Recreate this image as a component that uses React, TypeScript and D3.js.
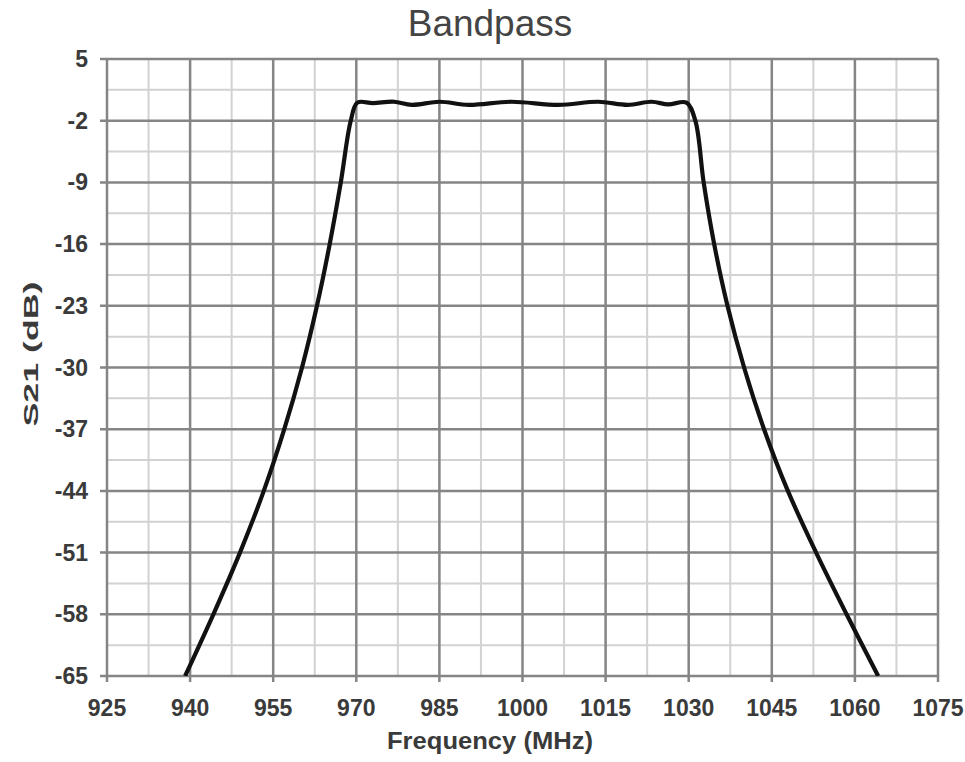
import * as d3 from "d3";
import { useEffect, useRef } from "react";

// frequency (MHz) vs S21 (dB)
const freqs = [
  939.1, 944.2, 949.0, 953.3, 957.0, 960.2, 962.9, 965.2, 967.2, 969.0, 970.2,
  973.0, 976.8, 980.0, 985.0, 990.3, 998.0, 1006.5, 1013.7, 1019.0, 1023.3, 1026.3, 1029.6,
  1031.2, 1032.7, 1034.6, 1037.0, 1040.0, 1043.6, 1047.9, 1053.0, 1058.5, 1064.2,
];
const s21 = [
  -65, -58, -51, -44, -37, -30, -23, -16, -9, -2, 0.05,
  0.0, 0.15, -0.2, 0.15, -0.2, 0.15, -0.2, 0.15, -0.2, 0.15, -0.15, 0.05,
  -2, -9, -16, -23, -30, -37, -44, -51, -58, -65,
];

const xTicks = [925, 940, 955, 970, 985, 1000, 1015, 1030, 1045, 1060, 1075];
const yTicks = [5, -2, -9, -16, -23, -30, -37, -44, -51, -58, -65];

const title = "Bandpass";
const xLabel = "Frequency (MHz)";
const yLabel = "S21 (dB)";

export default function App() {
  const ref = useRef<SVGSVGElement>(null);

  useEffect(() => {
    const svg = d3.select(ref.current);
    svg.selectAll("*").remove();

    const left = 107,
      right = 938,
      top = 59,
      bottom = 676;

    const x = d3.scaleLinear().domain([925, 1075]).range([left, right]);
    const y = d3.scaleLinear().domain([-65, 5]).range([bottom, top]);

    const font = "'Liberation Sans', Arial, sans-serif";

    svg.append("rect").attr("width", 965).attr("height", 762).attr("fill", "#fff");

    // minor grid (halfway between majors)
    const g = svg.append("g");
    for (let i = 0; i < xTicks.length - 1; i++) {
      const v = (xTicks[i] + xTicks[i + 1]) / 2;
      g.append("line")
        .attr("x1", x(v)).attr("x2", x(v))
        .attr("y1", top).attr("y2", bottom)
        .attr("stroke", "#d2d2d2").attr("stroke-width", 2);
    }
    for (let i = 0; i < yTicks.length - 1; i++) {
      const v = (yTicks[i] + yTicks[i + 1]) / 2;
      g.append("line")
        .attr("x1", left).attr("x2", right)
        .attr("y1", y(v)).attr("y2", y(v))
        .attr("stroke", "#d2d2d2").attr("stroke-width", 2);
    }

    // major grid + ticks
    g.selectAll(".vx")
      .data(xTicks)
      .enter()
      .append("line")
      .attr("x1", (d) => x(d)).attr("x2", (d) => x(d))
      .attr("y1", top).attr("y2", bottom + 6)
      .attr("stroke", "#858585").attr("stroke-width", 2.5);
    g.selectAll(".hy")
      .data(yTicks)
      .enter()
      .append("line")
      .attr("x1", left - 7).attr("x2", right)
      .attr("y1", (d) => y(d)).attr("y2", (d) => y(d))
      .attr("stroke", "#858585").attr("stroke-width", 2.5);

    // tick labels
    svg.selectAll(".xl")
      .data(xTicks)
      .enter()
      .append("text")
      .attr("x", (d) => x(d))
      .attr("y", 716)
      .attr("text-anchor", "middle")
      .attr("font-family", font)
      .attr("font-size", 23)
      .attr("font-weight", "bold")
      .attr("fill", "#3a3a3a")
      .text((d) => d);

    svg.selectAll(".yl")
      .data(yTicks)
      .enter()
      .append("text")
      .attr("x", 88)
      .attr("y", (d) => y(d) + 8)
      .attr("text-anchor", "end")
      .attr("font-family", font)
      .attr("font-size", 23)
      .attr("font-weight", "bold")
      .attr("fill", "#3a3a3a")
      .text((d) => d);

    // curve
    svg.append("clipPath").attr("id", "plot")
      .append("rect")
      .attr("x", left).attr("y", top)
      .attr("width", right - left).attr("height", bottom - top);

    const pts = freqs.map((f, i) => [f, s21[i]] as [number, number]);
    const line = d3
      .line<[number, number]>()
      .x((d) => x(d[0]))
      .y((d) => y(d[1]))
      .curve(d3.curveCatmullRom.alpha(0.5));

    svg.append("path")
      .datum(pts)
      .attr("clip-path", "url(#plot)")
      .attr("d", line)
      .attr("fill", "none")
      .attr("stroke", "#111")
      .attr("stroke-width", 4.2)
      .attr("stroke-linejoin", "round");

    // titles
    svg.append("text")
      .attr("x", 490).attr("y", 36)
      .attr("text-anchor", "middle")
      .attr("font-family", font)
      .attr("font-size", 37)
      .attr("fill", "#444")
      .text(title);

    svg.append("text")
      .attr("x", 490).attr("y", 749)
      .attr("text-anchor", "middle")
      .attr("font-family", font)
      .attr("font-size", 23)
      .attr("font-weight", "bold")
      .attr("textLength", 206)
      .attr("lengthAdjust", "spacingAndGlyphs")
      .attr("fill", "#3a3a3a")
      .text(xLabel);

    svg.append("text")
      .attr("transform", "translate(38, 354) rotate(-90)")
      .attr("text-anchor", "middle")
      .attr("font-family", font)
      .attr("font-size", 21)
      .attr("font-weight", "bold")
      .attr("textLength", 145)
      .attr("lengthAdjust", "spacingAndGlyphs")
      .attr("fill", "#3a3a3a")
      .text(yLabel);
  }, []);

  return (
    <svg
      ref={ref}
      width={965}
      height={762}
      style={{ position: "absolute", left: 0, top: 0 }}
    />
  );
}
